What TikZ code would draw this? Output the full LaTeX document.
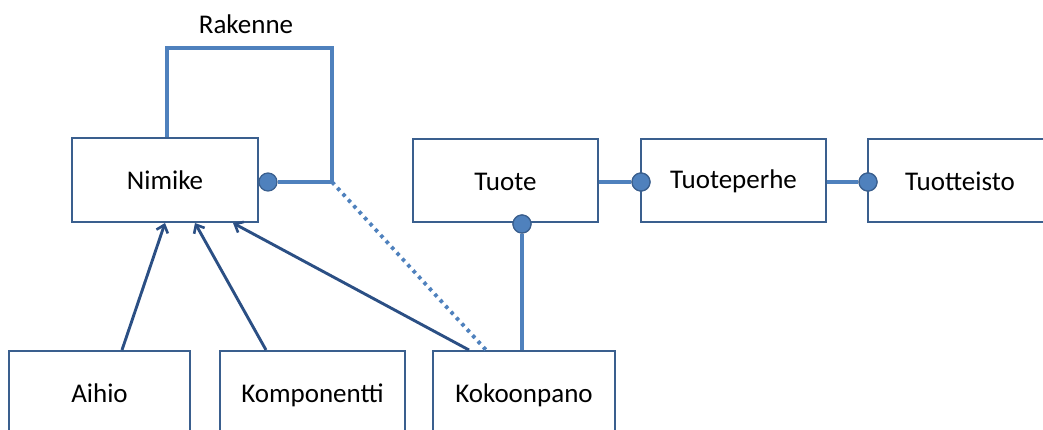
\documentclass[tikz,border=0pt]{standalone}
\usepackage{fontspec}
\setmainfont{Carlito}
\usetikzlibrary{arrows.meta}
\definecolor{boxline}{HTML}{3A5F8E}
\definecolor{conn}{HTML}{4F81BD}
\definecolor{arrline}{HTML}{2B4F84}
\begin{document}
\begin{tikzpicture}[x=1pt,y=-1pt,
  entity/.style={draw=boxline, line width=2pt, fill=white, rectangle, inner sep=0pt,
    font=\fontsize{27}{32}\selectfont, text height=20pt, text depth=0pt},
  lowentity/.style={entity, text height=12pt},
  link/.style={draw=conn, line width=3.2pt},
  dotlink/.style={draw=conn, line width=3.8pt, dash pattern=on 3.5pt off 4.5pt},
  isa/.style={draw=arrline, line width=2.9pt, -{Straight Barb[length=7pt,width=12pt,line width=2.6pt]}},
  ball/.style={circle, fill=conn, draw=boxline, line width=1.2pt, minimum size=18pt, inner sep=0pt}]
\useasboundingbox (0,0) rectangle (1043,430);

% entities
\node[entity, minimum width=186pt, minimum height=84pt] (nimike) at (165,180) {Nimike};
\node[entity, minimum width=185pt, minimum height=83pt] (tuote) at (505.5,180.5) {Tuote};
\node[entity, minimum width=185pt, minimum height=83pt, text height=17pt] (perhe) at (733.5,180.5) {Tuoteperhe};
\node[entity, minimum width=184pt, minimum height=83pt] (isto) at (960,180.5) {Tuotteisto};
\node[lowentity, minimum width=181pt, minimum height=90pt] (aihio) at (99.5,396) {Aihio};
\node[lowentity, minimum width=185pt, minimum height=90pt] (komp) at (312.5,396) {Komponentti};
\node[lowentity, minimum width=182pt, minimum height=90pt] (kok) at (524,396) {Kokoonpano};

% structure loop of Nimike
\coordinate (r1) at (167,48);
\coordinate (r2) at (332,48);
\coordinate (r3) at (332,182);
\node[ball] (cn) at (268,182) {};
\draw[link, line join=miter] (nimike.north -| r1) -- (r1) -- (r2) -- (r3) -- (cn);
\node[font=\fontsize{27}{32}\selectfont] (rak) at (246,24) {Rakenne};

% dotted link to Kokoonpano
\coordinate (d1) at (486,0);
\draw[dotlink] (r3) -- (kok.north -| d1);

% product chain
\node[ball] (ct) at (522,224) {};
\node[ball] (cp) at (641,182) {};
\node[ball] (ci) at (868,182) {};
\draw[link] (kok.north -| ct) -- (ct);
\draw[link] (tuote.east |- cp) -- (cp);
\draw[link] (perhe.east |- ci) -- (ci);
\node[ball] at (ct) {};
\node[ball] at (cp) {};
\node[ball] at (ci) {};

% generalisation arrows
\coordinate (a1) at (122,0);
\coordinate (a2) at (165,0);
\coordinate (k1) at (266,0);
\coordinate (k2) at (195,0);
\coordinate (p1) at (469,0);
\coordinate (p2) at (233,0);
\draw[isa] (aihio.north -| a1) -- (nimike.south -| a2);
\draw[isa] (komp.north -| k1) -- (nimike.south -| k2);
\draw[isa] (kok.north -| p1) -- (nimike.south -| p2);
\end{tikzpicture}
\end{document}
